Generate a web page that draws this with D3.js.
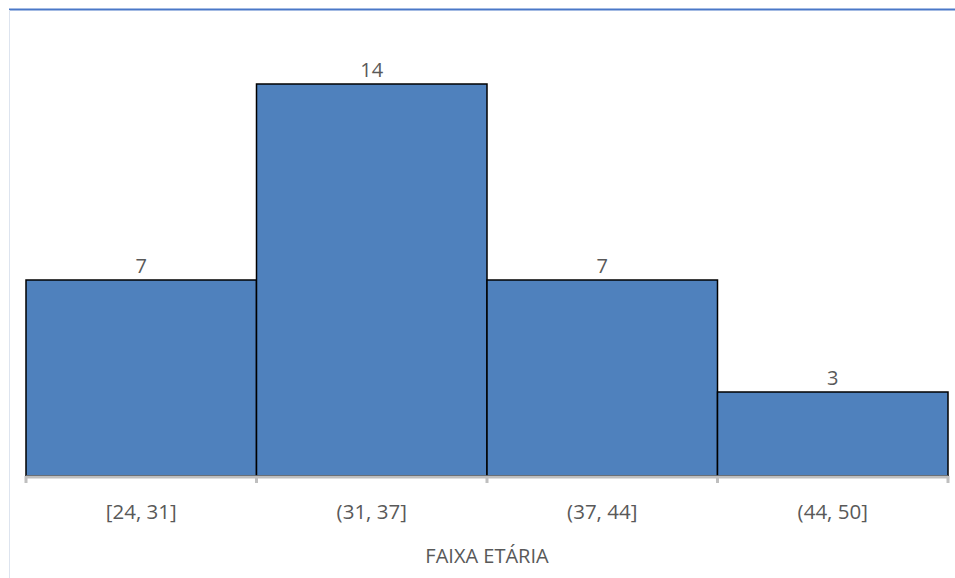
<!DOCTYPE html>
<html><head><meta charset="utf-8">
<script src="https://cdn.jsdelivr.net/npm/d3@7"></script>
<style>body{margin:0;background:#fff;} svg{display:block;}</style>
</head><body>
<svg id="c" width="955" height="578"></svg>
<script>
const categories = ["[24, 31]", "(31, 37]", "(37, 44]", "(44, 50]"];
const counts = [7, 14, 7, 3];
const axisTitle = "FAIXA ETÁRIA";

const svg = d3.select("#c");
const W = 955, H = 578;
const m = {left: 26, right: 7, top: 84, bottom: 102};
const x = d3.scaleBand().domain(categories).range([m.left, W - m.right]).padding(0);
const y = d3.scaleLinear().domain([0, 14]).range([H - m.bottom, m.top]);
const font = "'Open Sans', sans-serif";

// frame
svg.append("line").attr("x1", 9).attr("x2", W).attr("y1", 9.5).attr("y2", 9.5)
  .attr("stroke", "#4a78c8").attr("stroke-width", 2);
svg.append("line").attr("x1", 9.5).attr("x2", 9.5).attr("y1", 10).attr("y2", H)
  .attr("stroke", "#dde4ef").attr("stroke-width", 1);

// bars
svg.selectAll("rect.bar").data(counts).join("rect").attr("class", "bar")
  .attr("x", (d, i) => x(categories[i]))
  .attr("y", d => y(d))
  .attr("width", x.bandwidth())
  .attr("height", d => y(0) - y(d))
  .attr("fill", "#4f81bd").attr("stroke", "#000").attr("stroke-width", 1.5);

// axis
const base = y(0);
svg.append("line").attr("x1", m.left).attr("x2", W - m.right).attr("y1", base + 1).attr("y2", base + 1)
  .attr("stroke", "#bfbfbf").attr("stroke-width", 3);
const ticks = categories.map(c => x(c)).concat([x(categories[categories.length - 1]) + x.bandwidth()]);
svg.selectAll("line.tick").data(ticks).join("line").attr("class", "tick")
  .attr("x1", d => d).attr("x2", d => d).attr("y1", base).attr("y2", base + 7)
  .attr("stroke", "#bfbfbf").attr("stroke-width", 3);

// value labels
svg.selectAll("text.val").data(counts).join("text").attr("class", "val")
  .attr("x", (d, i) => x(categories[i]) + x.bandwidth() / 2)
  .attr("y", d => y(d) - 7)
  .attr("text-anchor", "middle").attr("font-family", font).attr("font-size", 20)
  .attr("fill", "#595959").text(d => d);

// category labels
svg.selectAll("text.cat").data(categories).join("text").attr("class", "cat")
  .attr("x", d => x(d) + x.bandwidth() / 2)
  .attr("y", 519)
  .attr("text-anchor", "middle").attr("font-family", font).attr("font-size", 20.5)
  .attr("fill", "#595959").text(d => d);

svg.append("text").attr("x", (m.left + W - m.right) / 2).attr("y", 563)
  .attr("text-anchor", "middle").attr("font-family", font).attr("font-size", 20)
  .attr("fill", "#595959").text(axisTitle);
</script>
</body></html>
